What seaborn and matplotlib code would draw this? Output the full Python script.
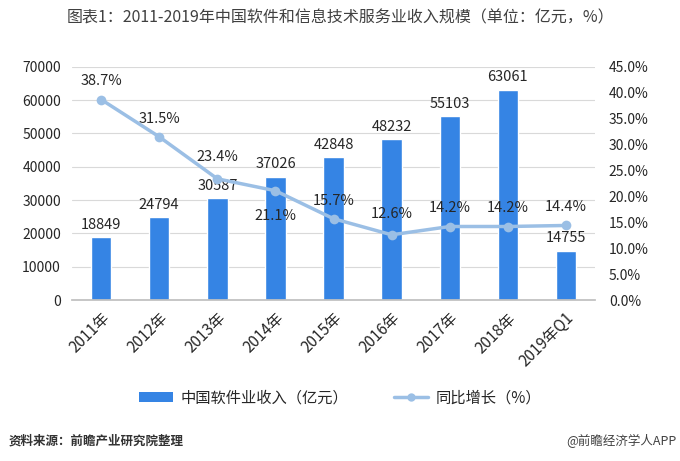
import numpy as np
import pandas as pd
import matplotlib
matplotlib.use('Agg')
import matplotlib.pyplot as plt
from matplotlib.patches import Patch
from matplotlib.lines import Line2D
import seaborn as sns

# 数据
years = ['2011年', '2012年', '2013年', '2014年', '2015年', '2016年', '2017年', '2018年', '2019年Q1']
revenue = [18849, 24794, 30587, 37026, 42848, 48232, 55103, 63061, 14755]
growth = [38.7, 31.5, 23.4, 21.1, 15.7, 12.6, 14.2, 14.2, 14.4]
# 百分比标签偏移（点），正数在上方，负数在下方
pct_offset = [13, 13, 16, -18, 13, 15, 13, 13, 13]

sns.set_theme(style='white')
plt.rcParams['font.family'] = ['Noto Sans CJK SC', 'DejaVu Sans']
plt.rcParams['axes.unicode_minus'] = False

bar_color = '#3584E4'
line_color = '#9BBFE5'
text_color = '#262626'

df = pd.DataFrame({'year': years, 'revenue': revenue, 'growth': growth})

fig = plt.figure(figsize=(6.8, 4.61), dpi=100)
ax = fig.add_axes([0.106, 0.349, 0.769, 0.506])

sns.barplot(data=df, x='year', y='revenue', color=bar_color, width=0.35,
            saturation=1, ax=ax, zorder=2)
ax.bar_label(ax.containers[0], fmt='%d', padding=4, fontsize=10.5, color=text_color)

ax.set_ylim(0, 70000)
ax.set_yticks(np.arange(0, 70001, 10000))
ax.yaxis.grid(True, color='#D9D9D9', linewidth=0.8, zorder=0)
ax.set_axisbelow(True)
ax.set_xlim(-0.5, len(years) - 0.5)
ax.set_xlabel('')
ax.set_ylabel('')
for s in ['top', 'right', 'left']:
    ax.spines[s].set_visible(False)
ax.spines['bottom'].set_color('#BFBFBF')
ax.tick_params(axis='y', labelsize=10, labelcolor=text_color, length=0, pad=8)
ax.tick_params(axis='x', labelsize=11, labelcolor=text_color, length=0, pad=7)
plt.setp(ax.get_xticklabels(), rotation=45, ha='right', rotation_mode='anchor')

# 同比增长（右轴）
ax2 = ax.twinx()
x_pos = np.arange(len(years))
sns.lineplot(x=x_pos, y=growth, ax=ax2, color=line_color, linewidth=2.5,
             marker='o', markersize=7, markeredgewidth=0, zorder=3)
ax2.set_ylim(0, 45)
ax2.set_yticks(np.arange(0, 45.1, 5))
ax2.set_yticklabels([f'{v:.1f}%' for v in np.arange(0, 45.1, 5)])
ax2.tick_params(axis='y', labelsize=10, labelcolor=text_color, length=0, pad=10)
ax2.grid(False)
for s in ['top', 'right', 'left', 'bottom']:
    ax2.spines[s].set_visible(False)
ax2.set_xlim(-0.5, len(years) - 0.5)

for i, v in enumerate(growth):
    ax2.annotate(f'{v:.1f}%', (i, v), xytext=(0, pct_offset[i]), textcoords='offset points',
                 ha='center', va='center', fontsize=10.5, color=text_color)

# 标题
fig.text(0.5, 0.962, '图表1：2011-2019年中国软件和信息技术服务业收入规模（单位：亿元，%）',
         ha='center', va='center', fontsize=11.5, color='#404040')

# 图例
handles = [Patch(facecolor=bar_color, edgecolor='none'),
           Line2D([0], [0], color=line_color, linewidth=2.5, marker='o', markersize=6,
                  markeredgewidth=0)]
fig.legend(handles, ['中国软件业收入（亿元）', '同比增长（%）'], loc='center',
           bbox_to_anchor=(0.5, 0.137), ncol=2, frameon=False, fontsize=11,
           handlelength=2.2, handletextpad=0.5, columnspacing=3, labelcolor=text_color)

# 来源
fig.text(0.012, 0.043, '资料来源：前瞻产业研究院整理', ha='left', va='center',
         fontsize=9, color='#333333', style='italic', fontweight='bold')
fig.text(0.995, 0.043, '@前瞻经济学人APP', ha='right', va='center',
         fontsize=9, color='#404040')

fig.savefig('out.png', dpi=100)
